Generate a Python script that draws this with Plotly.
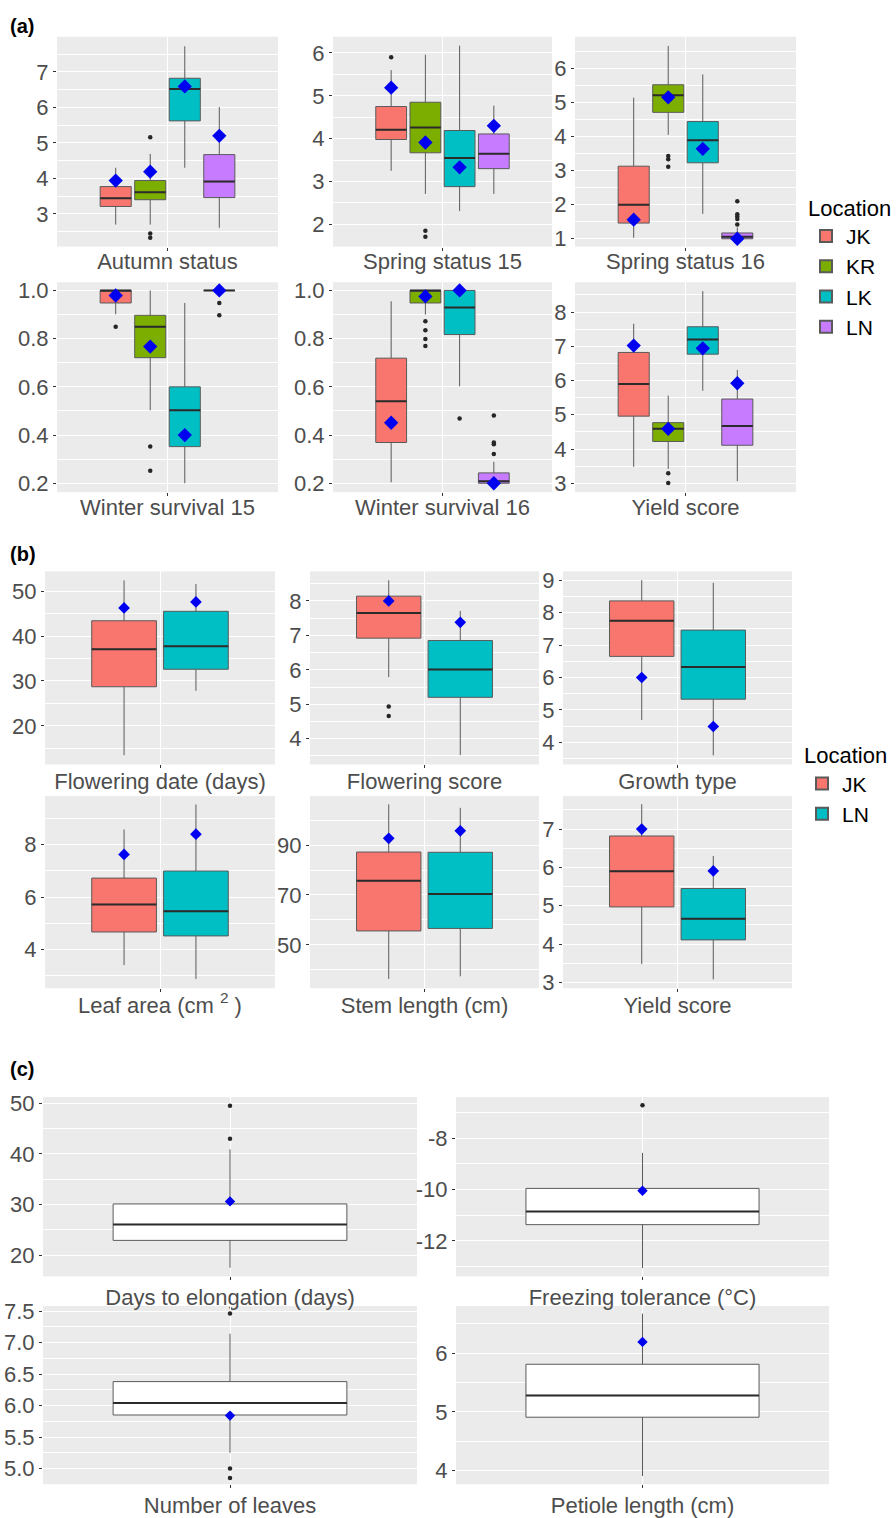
import plotly.graph_objects as go

# ===================== DATA =====================
# ---- Section (a): four locations ----
A_TRAITS = ["Autumn status", "Spring status 15", "Spring status 16",
            "Winter survival 15", "Winter survival 16", "Yield score"]
A_LOCS = ["JK", "KR", "LK", "LN"]
A_Q1 = {
    "JK": [3.21, 3.98, 1.46, 0.948, 0.369, 4.96],
    "KR": [3.40, 3.67, 4.71, 0.721, 0.948, 4.22],
    "LK": [5.62, 2.88, 3.23, 0.352, 0.817, 6.77],
    "LN": [3.46, 3.30, 1.00, 1.000, 0.200, 4.11],
}
A_MED = {
    "JK": [3.44, 4.21, 2.00, 1.000, 0.540, 5.90],
    "KR": [3.61, 4.26, 5.21, 0.849, 1.000, 4.59],
    "LK": [6.52, 3.55, 3.89, 0.503, 0.929, 7.20],
    "LN": [3.91, 3.65, 1.06, 1.000, 0.208, 4.67],
}
A_Q3 = {
    "JK": [3.77, 4.75, 3.13, 1.000, 0.719, 6.82],
    "KR": [3.94, 4.85, 5.52, 0.897, 1.000, 4.77],
    "LK": [6.82, 4.19, 4.44, 0.600, 1.000, 7.57],
    "LN": [4.67, 4.11, 1.17, 1.000, 0.243, 5.46],
}
A_LO = {
    "JK": [2.70, 3.25, 1.03, 0.901, 0.204, 3.48],
    "KR": [2.70, 2.71, 4.05, 0.503, 0.900, 3.42],
    "LK": [4.30, 2.31, 1.73, 0.200, 0.602, 5.70],
    "LN": [2.61, 2.71, 1.00, 1.000, 0.200, 3.06],
}
A_HI = {
    "JK": [4.30, 5.60, 5.14, 1.000, 0.955, 7.66],
    "KR": [4.69, 5.96, 6.66, 1.000, 1.000, 5.56],
    "LK": [7.72, 6.17, 5.82, 0.948, 1.000, 8.61],
    "LN": [6.01, 4.77, 1.33, 1.000, 0.289, 6.31],
}
A_MARK = {
    "JK": [3.94, 5.19, 1.56, 0.979, 0.451, 7.02],
    "KR": [4.19, 3.91, 5.15, 0.767, 0.975, 4.59],
    "LK": [6.59, 3.33, 3.64, 0.400, 1.000, 6.94],
    "LN": [5.20, 4.30, 1.00, 1.000, 0.200, 5.92],
}
A_OUT = {
    "JK": [[], [5.90], [], [0.849], [], []],
    "KR": [[5.16, 2.45, 2.33], [1.85, 1.71], [3.43, 3.33, 3.11],
           [0.352, 0.252], [0.872, 0.835, 0.798, 0.769], [3.29, 3.01]],
    "LK": [[], [], [], [], [0.469], []],
    "LN": [[], [], [2.10, 1.72, 1.65, 1.58, 1.42], [0.948, 0.897],
           [0.481, 0.369, 0.362, 0.321], []],
}
A_YTICKS = [[3, 4, 5, 6, 7], [2, 3, 4, 5, 6], [1, 2, 3, 4, 5, 6],
            [0.2, 0.4, 0.6, 0.8, 1.0], [0.2, 0.4, 0.6, 0.8, 1.0], [3, 4, 5, 6, 7, 8]]
A_YDEC = [0, 0, 0, 1, 1, 0]

# ---- Section (b): two locations ----
B_TRAITS = ["Flowering date (days)", "Flowering score", "Growth type",
            "Leaf area (cm <sup>2</sup> )", "Stem length (cm)", "Yield score"]
B_LOCS = ["JK", "LN"]
B_Q1 = {"JK": [28.7, 6.92, 6.65, 4.67, 55.6, 4.97],
        "LN": [32.6, 5.20, 5.33, 4.52, 56.6, 4.11]}
B_MED = {"JK": [37.06, 7.65, 7.75, 5.72, 75.7, 5.90],
         "LN": [37.7, 6.01, 6.32, 5.46, 70.4, 4.66]}
B_Q3 = {"JK": [43.4, 8.14, 8.36, 6.72, 87.2, 6.82],
        "LN": [45.5, 6.85, 7.46, 6.99, 87.1, 5.45]}
B_LO = {"JK": [13.46, 5.79, 4.69, 3.41, 36.4, 3.48],
        "LN": [27.8, 3.52, 3.60, 2.88, 37.4, 3.08]}
B_HI = {"JK": [52.4, 8.60, 9.00, 8.57, 106.3, 7.65],
        "LN": [51.6, 7.71, 8.92, 9.52, 104.9, 6.30]}
B_MARK = {"JK": [46.25, 8.00, 6.00, 7.62, 92.7, 7.00],
          "LN": [47.6, 7.38, 4.49, 8.39, 95.7, 5.91]}
B_OUT = {"JK": [[], [4.93, 4.66], [], [], [], []],
         "LN": [[], [], [], [], [], []]}
B_YTICKS = [[20, 30, 40, 50], [4, 5, 6, 7, 8], [4, 5, 6, 7, 8, 9],
            [4, 6, 8], [50, 70, 90], [3, 4, 5, 6, 7]]
B_YDEC = [0, 0, 0, 0, 0, 0]

# ---- Section (c): all accessions ----
C_TRAITS = ["Days to elongation (days)", "Freezing tolerance (°C)",
            "Number of leaves", "Petiole length (cm)"]
C_Q1 = [22.9, -11.37, 5.85, 4.91]
C_MED = [26.05, -10.86, 6.04, 5.28]
C_Q3 = [30.1, -9.96, 6.38, 5.81]
C_LO = [17.5, -13.06, 5.25, 3.91]
C_HI = [40.9, -8.58, 7.14, 6.67]
C_MARK = [30.6, -10.05, 5.84, 6.19]
C_OUT = [[49.5, 43.0], [-6.73], [7.46, 5.00, 4.85], []]
C_YTICKS = [[20, 30, 40, 50], [-12, -10, -8], [5.0, 5.5, 6.0, 6.5, 7.0, 7.5], [4, 5, 6]]
C_YDEC = [0, 0, 1, 0]

# ===================== STYLE / LAYOUT =====================
W, H = 896, 1518
FONT = "Liberation Sans, Arial, sans-serif"
TICK_COL = "#4D4D4D"
A_COLORS = {"JK": "#F8766D", "KR": "#7CAE00", "LK": "#00BFC4", "LN": "#C77CFF"}
B_COLORS = {"JK": "#F8766D", "LN": "#00BFC4"}

A_BOXES = [(57, 278, 30, 242), (333, 552, 30, 242), (575, 796, 30, 242),
           (57, 278, 278, 490), (333, 552, 278, 490), (575, 796, 278, 490)]
A_YRANGE = [[2.08, 7.99], [1.48, 6.38], [0.77, 6.93],
            [0.163, 1.034], [0.163, 1.034], [2.74, 8.87]]
B_BOXES = [(45, 275, 570, 765), (310, 539, 570, 765), (563, 792, 570, 765),
           (45, 275, 797, 991), (310, 539, 797, 991), (563, 792, 797, 991)]
B_YRANGE = [[11.4, 54.4], [3.25, 8.86], [3.32, 9.27],
            [2.53, 9.84], [32.65, 109.6], [2.85, 7.86]]
C_BOXES = [(43, 417, 1101, 1282), (456, 829, 1101, 1282),
           (43, 417, 1312, 1492), (456, 829, 1312, 1492)]
C_YRANGE = [[15.8, 51.2], [-13.38, -6.41], [4.75, 7.58], [3.77, 6.80]]

fig = go.Figure()
layout = {}
counter = [0]


def new_panel(box, yrange, ticks, dec, label, standoff):
    counter[0] += 1
    i = counter[0]
    s = "" if i == 1 else str(i)
    x0, x1, y0, y1 = box
    step = ticks[1] - ticks[0]
    layout["xaxis" + s] = dict(
        domain=[x0 / W, x1 / W], range=[-0.6, 0.6], anchor="y" + s,
        tickmode="array", tickvals=[0], ticktext=[label],
        showgrid=True, gridcolor="white", gridwidth=1.2, zeroline=False,
        showline=False, ticks="outside", ticklen=3, tickwidth=1,
        tickcolor="#333333", fixedrange=True, ticklabelstandoff=standoff,
        tickfont=dict(family=FONT, size=22, color=TICK_COL))
    layout["yaxis" + s] = dict(
        domain=[1 - y1 / H, 1 - y0 / H], range=yrange, anchor="x" + s,
        tickmode="array", tickvals=ticks,
        ticktext=[f"{v:.{dec}f}" for v in ticks],
        showgrid=True, gridcolor="white", gridwidth=1.2, zeroline=False,
        showline=False, ticks="outside", ticklen=3, tickwidth=1,
        tickcolor="#333333", fixedrange=True,
        tickfont=dict(family=FONT, size=22, color=TICK_COL),
        minor=dict(tickmode="linear", tick0=ticks[0] - step / 2, dtick=step,
                   showgrid=True, gridcolor="white", gridwidth=0.6, ticks=""))
    return "x" + s, "y" + s


def draw_panel(xr, yr, positions, width, stats, fills, names, showleg,
               legend, msize):
    med_x, med_y = [], []
    out_x, out_y = [], []
    mk_x, mk_y = [], []
    for pos, st, fill, name in zip(positions, stats, fills, names):
        q1, med, q3, lo, hi, mark, outs = st
        fig.add_trace(go.Box(
            x=[pos], q1=[q1], median=[med], q3=[q3],
            lowerfence=[lo], upperfence=[hi], width=width,
            fillcolor=fill, line=dict(color="#5A5A5A", width=1),
            whiskerwidth=0, boxpoints=False, name=name or "box",
            legendgroup=legend, showlegend=showleg and bool(name),
            legend=legend, xaxis=xr, yaxis=yr, hoverinfo="skip"))
        med_x += [pos - width / 2, pos + width / 2, None]
        med_y += [med, med, None]
        out_x += [pos] * len(outs)
        out_y += list(outs)
        mk_x.append(pos)
        mk_y.append(mark)
    fig.add_trace(go.Scatter(x=med_x, y=med_y, mode="lines",
                             line=dict(color="#2B2B2B", width=2),
                             showlegend=False, hoverinfo="skip",
                             xaxis=xr, yaxis=yr))
    fig.add_trace(go.Scatter(x=out_x, y=out_y, mode="markers",
                             marker=dict(color="#262626", size=4.5),
                             showlegend=False, hoverinfo="skip",
                             xaxis=xr, yaxis=yr))
    fig.add_trace(go.Scatter(x=mk_x, y=mk_y, mode="markers",
                             marker=dict(color="#0000F0", size=msize,
                                         symbol="diamond"),
                             showlegend=False, hoverinfo="skip",
                             xaxis=xr, yaxis=yr))


# ---- section (a) ----
A_POS = [-0.28125, -0.09375, 0.09375, 0.28125]
for k, trait in enumerate(A_TRAITS):
    xr, yr = new_panel(A_BOXES[k], A_YRANGE[k], A_YTICKS[k], A_YDEC[k], trait, -8)
    stats = [(A_Q1[l][k], A_MED[l][k], A_Q3[l][k], A_LO[l][k], A_HI[l][k],
              A_MARK[l][k], A_OUT[l][k]) for l in A_LOCS]
    draw_panel(xr, yr, A_POS, 0.16875, stats, [A_COLORS[l] for l in A_LOCS],
               A_LOCS, k == 0, "legend", 11)

# ---- section (b) ----
B_POS = [-0.1875, 0.1875]
for k, trait in enumerate(B_TRAITS):
    xr, yr = new_panel(B_BOXES[k], B_YRANGE[k], B_YTICKS[k], B_YDEC[k], trait, -6)
    stats = [(B_Q1[l][k], B_MED[l][k], B_Q3[l][k], B_LO[l][k], B_HI[l][k],
              B_MARK[l][k], B_OUT[l][k]) for l in B_LOCS]
    draw_panel(xr, yr, B_POS, 0.3375, stats, [B_COLORS[l] for l in B_LOCS],
               B_LOCS, k == 0, "legend2", 9)

# ---- section (c) ----
for k, trait in enumerate(C_TRAITS):
    xr, yr = new_panel(C_BOXES[k], C_YRANGE[k], C_YTICKS[k], C_YDEC[k], trait, -2)
    stats = [(C_Q1[k], C_MED[k], C_Q3[k], C_LO[k], C_HI[k], C_MARK[k], C_OUT[k])]
    draw_panel(xr, yr, [0.0], 0.75, stats, ["white"], [None], False,
               "legend", 8)

legend_style = dict(
    bgcolor="rgba(0,0,0,0)", xanchor="left", yanchor="top",
    font=dict(family=FONT, size=21, color="black"),
    title=dict(text="Location", font=dict(family=FONT, size=22, color="black")),
    tracegroupgap=0, itemsizing="constant")

layout.update(dict(
    width=W, height=H, margin=dict(l=0, r=0, t=0, b=0),
    plot_bgcolor="#EBEBEB", paper_bgcolor="white",
    font=dict(family=FONT),
    showlegend=True, boxmode="overlay",
    legend=dict(x=806 / W, y=1 - 182 / H, **legend_style),
    legend2=dict(x=802 / W, y=1 - 735 / H, **legend_style),
    annotations=[
        dict(text="<b>(a)</b>", x=8 / W, y=1 - 19 / H, xref="paper", yref="paper",
             xanchor="left", yanchor="middle", showarrow=False,
             font=dict(family=FONT, size=20, color="black")),
        dict(text="<b>(b)</b>", x=8 / W, y=1 - 552 / H, xref="paper", yref="paper",
             xanchor="left", yanchor="middle", showarrow=False,
             font=dict(family=FONT, size=20, color="black")),
        dict(text="<b>(c)</b>", x=8 / W, y=1 - 1073 / H, xref="paper", yref="paper",
             xanchor="left", yanchor="middle", showarrow=False,
             font=dict(family=FONT, size=20, color="black")),
    ],
))
fig.update_layout(layout)

fig.write_html("out.html", config={"displayModeBar": False},
               post_script="document.body.style.margin='0';")
